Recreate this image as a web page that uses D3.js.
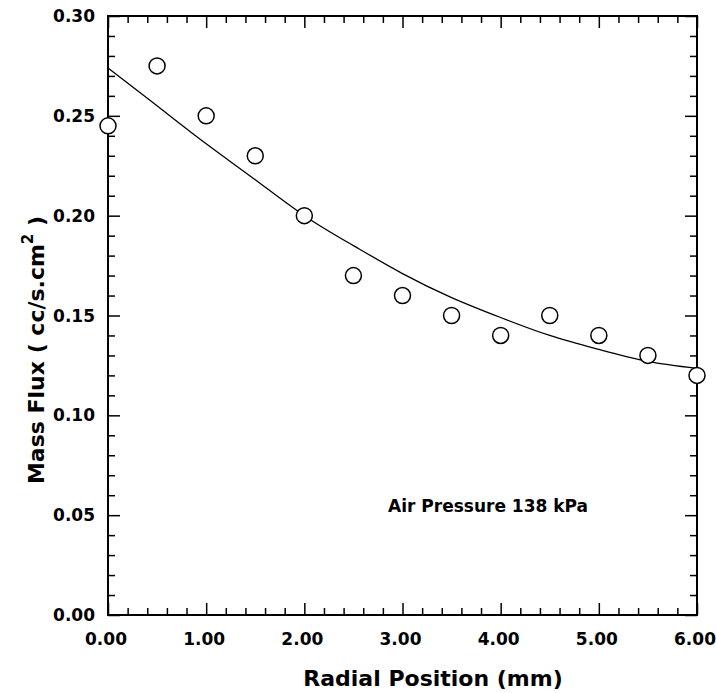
<!DOCTYPE html>
<html>
<head>
<meta charset="utf-8">
<script src="https://cdn.jsdelivr.net/npm/d3@7"></script>
<style>
  body { margin: 0; background: #fff; }
  svg text { font-family: "DejaVu Sans", sans-serif; font-weight: bold; fill: #000; }
</style>
</head>
<body>
<svg id="chart" width="716" height="693"></svg>
<script>
// measured points
let radial = [0, 0.5, 1, 1.5, 2, 2.5, 3, 3.5, 4, 4.5, 5, 5.5, 6];
let flux = [0.245, 0.275, 0.25, 0.23, 0.20, 0.17, 0.16, 0.15, 0.14, 0.15, 0.14, 0.13, 0.12];

// fitted curve
let fitX = [0, 0.5, 1, 1.5, 2, 2.5, 3, 3.5, 4, 4.5, 5, 5.5, 6];
let fitY = [0.274, 0.255, 0.236, 0.218, 0.200, 0.185, 0.171, 0.159, 0.149, 0.140, 0.133, 0.127, 0.1235];

let xTicks = [0, 1, 2, 3, 4, 5, 6];
let yTicks = [0, 0.05, 0.10, 0.15, 0.20, 0.25, 0.30];

let svg = d3.select("#chart");
let plotL = 108, plotR = 697, plotT = 16, plotB = 615;

let x = d3.scaleLinear().domain([0, 6]).range([plotL, plotR]);
let y = d3.scaleLinear().domain([0, 0.30]).range([plotB, plotT]);

let xMinor = d3.range(0, 6.001, 0.2).filter(v => Math.abs(v - Math.round(v)) > 1e-6);
let yMinor = d3.range(0, 0.3001, 0.01).filter(v => Math.abs(v * 20 - Math.round(v * 20)) > 1e-6);

function tickAxis(axis, g) {
  g.call(axis);
  g.select(".domain").remove();
  g.selectAll("line").attr("stroke", "#000").attr("stroke-width", 1.5);
}

// bottom
svg.append("g").attr("transform", `translate(0,${plotB})`)
  .call(g => tickAxis(d3.axisTop(x).tickValues(xTicks).tickSize(12).tickFormat(""), g));
svg.append("g").attr("transform", `translate(0,${plotB})`)
  .call(g => tickAxis(d3.axisTop(x).tickValues(xMinor).tickSize(7).tickFormat(""), g));
// top
svg.append("g").attr("transform", `translate(0,${plotT})`)
  .call(g => tickAxis(d3.axisBottom(x).tickValues(xTicks).tickSize(12).tickFormat(""), g));
svg.append("g").attr("transform", `translate(0,${plotT})`)
  .call(g => tickAxis(d3.axisBottom(x).tickValues(xMinor).tickSize(7).tickFormat(""), g));
// left
svg.append("g").attr("transform", `translate(${plotL},0)`)
  .call(g => tickAxis(d3.axisRight(y).tickValues(yTicks).tickSize(12).tickFormat(""), g));
svg.append("g").attr("transform", `translate(${plotL},0)`)
  .call(g => tickAxis(d3.axisRight(y).tickValues(yMinor).tickSize(7).tickFormat(""), g));
// right
svg.append("g").attr("transform", `translate(${plotR},0)`)
  .call(g => tickAxis(d3.axisLeft(y).tickValues(yTicks).tickSize(12).tickFormat(""), g));
svg.append("g").attr("transform", `translate(${plotR},0)`)
  .call(g => tickAxis(d3.axisLeft(y).tickValues(yMinor).tickSize(7).tickFormat(""), g));

// frame
svg.append("rect")
  .attr("x", plotL).attr("y", plotT)
  .attr("width", plotR - plotL).attr("height", plotB - plotT)
  .attr("fill", "none").attr("stroke", "#000").attr("stroke-width", 2);

// tick labels
svg.append("g").selectAll("text").data(xTicks).join("text")
  .attr("x", d => x(d) - 2).attr("y", 645)
  .attr("text-anchor", "middle")
  .style("font-size", "17px")
  .text(d => d3.format(".2f")(d));

svg.append("g").selectAll("text").data(yTicks).join("text")
  .attr("x", 95).attr("y", d => y(d) + 6)
  .attr("text-anchor", "end")
  .style("font-size", "17px")
  .text(d => d3.format(".2f")(d));

// fitted line
let line = d3.line().x((d, i) => x(fitX[i])).y(d => y(d)).curve(d3.curveNatural);
svg.append("path")
  .attr("d", line(fitY))
  .attr("fill", "none").attr("stroke", "#000").attr("stroke-width", 1.3);

// points
svg.append("g").selectAll("circle").data(flux).join("circle")
  .attr("cx", (d, i) => x(radial[i]))
  .attr("cy", d => y(d))
  .attr("r", 8)
  .attr("fill", "#fff").attr("stroke", "#000").attr("stroke-width", 1.5);

// titles
svg.append("text")
  .attr("x", 433).attr("y", 686)
  .attr("text-anchor", "middle")
  .style("font-size", "22px")
  .text("Radial Position (mm)");

let yt = svg.append("text")
  .attr("transform", "translate(44,350) rotate(-90)")
  .attr("text-anchor", "middle")
  .style("font-size", "22px");
yt.append("tspan").text("Mass Flux ( cc/s.cm");
yt.append("tspan").attr("dy", -11).style("font-size", "15px").text("2");
yt.append("tspan").attr("dy", 11).text(" )");

svg.append("text")
  .attr("x", 388).attr("y", 512)
  .style("font-size", "17px")
  .text("Air Pressure 138 kPa");
</script>
</body>
</html>
